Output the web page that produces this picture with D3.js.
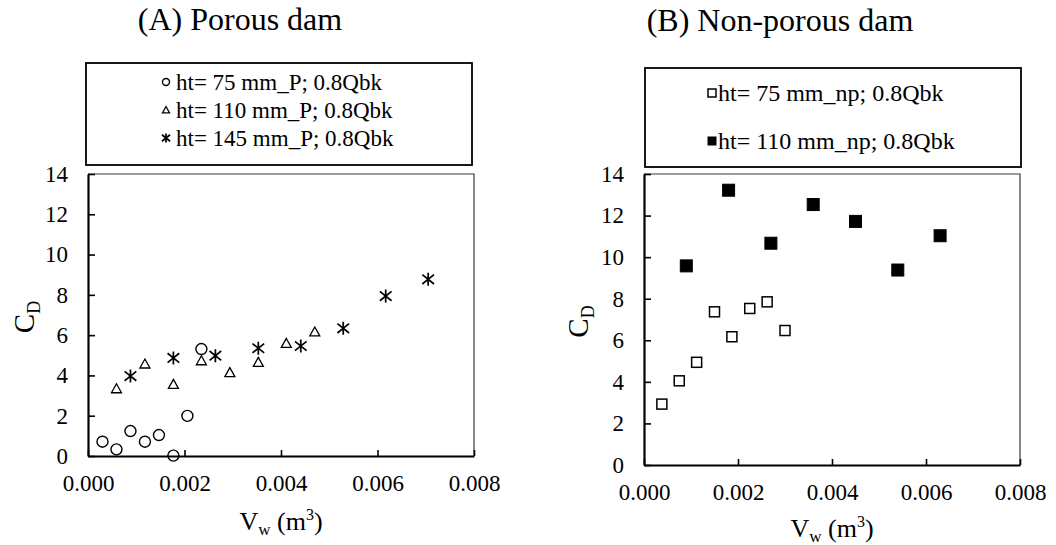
<!DOCTYPE html>
<html>
<head>
<meta charset="utf-8">
<script src="https://cdn.jsdelivr.net/npm/d3@7"></script>
<style>
  html, body { margin: 0; padding: 0; background: #fff; }
  svg { display: block; }
  svg text { font-family: "Liberation Serif", "Times New Roman", Times, Tinos, "DejaVu Serif", serif !important; fill: #000; }
</style>
</head>
<body>
<svg id="chart" width="1056" height="545"></svg>
<script>
// Axis ticks shared by both panels
const xTicks = [0, 0.002, 0.004, 0.006, 0.008];
const yTicks = [0, 2, 4, 6, 8, 10, 12, 14];

// (A) Porous dam: drag coefficient vs water volume
const seriesNamesA = ["ht= 75 mm_P; 0.8Qbk", "ht= 110 mm_P; 0.8Qbk", "ht= 145 mm_P; 0.8Qbk"];
const p75X  = [0.00030, 0.00059, 0.00088, 0.00118, 0.00147, 0.00177, 0.00206, 0.00235];
const p75Y  = [0.71, 0.33, 1.24, 0.71, 1.04, 0.02, 1.99, 5.31];
const p110X = [0.00059, 0.00118, 0.00177, 0.00235, 0.00294, 0.00353, 0.00411, 0.00470];
const p110Y = [3.34, 4.57, 3.56, 4.73, 4.14, 4.65, 5.59, 6.16];
const p145X = [0.00088, 0.00177, 0.00264, 0.00353, 0.00441, 0.00529, 0.00617, 0.00705];
const p145Y = [3.97, 4.87, 4.98, 5.35, 5.46, 6.34, 7.94, 8.77];

// (B) Non-porous dam
const seriesNamesB = ["ht= 75 mm_np; 0.8Qbk", "ht= 110 mm_np; 0.8Qbk"];
const np75X  = [0.00038, 0.00075, 0.00112, 0.00150, 0.00187, 0.00225, 0.00262, 0.00300];
const np75Y  = [2.93, 4.05, 4.94, 7.37, 6.17, 7.53, 7.85, 6.47];
const np110X = [0.00090, 0.00180, 0.00270, 0.00360, 0.00450, 0.00540, 0.00630];
const np110Y = [9.58, 13.22, 10.67, 12.53, 11.72, 9.38, 11.03];

const zip = (xs, ys) => xs.map((x, i) => ({ x, y: ys[i] }));

const svg = d3.select("#chart");
svg.append("rect").attr("width", 1056).attr("height", 545).attr("fill", "#fff");

// Marker painters: each draws one glyph centred at (0,0) of size s
const markers = {
  circle(g, s) {
    g.append("circle").attr("r", s / 2).attr("fill", "none").attr("stroke", "#000").attr("stroke-width", 1.4);
  },
  triangle(g, s) {
    const h = s * 0.9;
    g.append("path")
      .attr("d", `M0,${-h * 0.55}L${s / 2},${h * 0.45}L${-s / 2},${h * 0.45}Z`)
      .attr("fill", "none").attr("stroke", "#000").attr("stroke-width", 1.3);
  },
  star(g, s) {
    const r = s / 2;
    g.append("path")
      .attr("d", `M0,${-r}V${r}M${-r * 0.9},${-r * 0.72}L${r * 0.9},${r * 0.72}M${-r * 0.9},${r * 0.72}L${r * 0.9},${-r * 0.72}`)
      .attr("fill", "none").attr("stroke", "#000").attr("stroke-width", 1.7);
  },
  openSquare(g, s) {
    g.append("rect").attr("x", -s / 2).attr("y", -s / 2).attr("width", s).attr("height", s)
      .attr("fill", "#fff").attr("stroke", "#000").attr("stroke-width", 1.5);
  },
  filledSquare(g, s) {
    g.append("rect").attr("x", -s / 2).attr("y", -s / 2).attr("width", s).attr("height", s)
      .attr("fill", "#000").attr("stroke", "#000").attr("stroke-width", 1);
  }
};

function drawPanel(cfg) {
  const x = d3.scaleLinear().domain([0, 0.008]).range([cfg.left, cfg.right]);
  const y = d3.scaleLinear().domain([0, 14]).range([cfg.bottom, cfg.top]);

  // Title
  svg.append("text").attr("x", cfg.titleX).attr("y", cfg.titleY)
    .attr("text-anchor", "middle").attr("font-size", 32).text(cfg.title);

  // Legend box
  const lg = svg.append("g");
  lg.append("rect").attr("x", cfg.legend.x).attr("y", cfg.legend.y)
    .attr("width", cfg.legend.w).attr("height", cfg.legend.h)
    .attr("fill", "#fff").attr("stroke", "#000").attr("stroke-width", 1.8);
  cfg.series.forEach((s, i) => {
    const cy = cfg.legend.rowY[i];
    const m = lg.append("g").attr("transform", `translate(${cfg.legend.markX},${cy})`);
    markers[s.marker](m, s.legendSize);
    lg.append("text").attr("x", cfg.legend.textX).attr("y", cy).attr("dy", "0.35em")
      .attr("font-size", cfg.legend.fontSize).text(s.name);
  });

  // Plot frame: thin top/right border
  svg.append("path")
    .attr("d", `M${cfg.left},${cfg.top}H${cfg.right}V${cfg.bottom}`)
    .attr("fill", "none").attr("stroke", "#3a3a3a").attr("stroke-width", 1.2);

  // Axes with inward ticks
  const yAxis = d3.axisLeft(y).tickValues(yTicks).tickFormat(d3.format("d"))
    .tickSizeInner(-7).tickSizeOuter(0).tickPadding(20);
  const gy = svg.append("g").attr("transform", `translate(${cfg.left},0)`).call(yAxis);
  const xAxis = d3.axisBottom(x).tickValues(xTicks).tickFormat(d3.format(".3f"))
    .tickSizeInner(-6).tickSizeOuter(0).tickPadding(19);
  const gx = svg.append("g").attr("transform", `translate(0,${cfg.bottom})`).call(xAxis);
  [gx, gy].forEach(g => {
    g.attr("font-family", null);
    g.select(".domain").attr("stroke", "#000").attr("stroke-width", 2.2);
    g.selectAll(".tick line").attr("stroke", "#000").attr("stroke-width", 1.6);
    g.selectAll(".tick text").attr("font-size", 23);
  });

  // Axis titles
  const xt = svg.append("text").attr("x", (cfg.left + cfg.right) / 2).attr("y", cfg.bottom + cfg.xTitleOffset)
    .attr("text-anchor", "middle").attr("font-size", 26);
  xt.append("tspan").text("V");
  xt.append("tspan").attr("font-size", 17).attr("dy", 5).text("w");
  xt.append("tspan").attr("dy", -5).text(" (m");
  xt.append("tspan").attr("font-size", 16).attr("dy", -10).text("3");
  xt.append("tspan").attr("dy", 10).text(")");

  const yt = svg.append("text")
    .attr("transform", `translate(${cfg.yTitleX},${(cfg.top + cfg.bottom) / 2 + 2}) rotate(-90)`)
    .attr("text-anchor", "middle").attr("font-size", 29);
  yt.append("tspan").text("C");
  yt.append("tspan").attr("font-size", 18).attr("dy", 6).text("D");

  // Data points
  cfg.series.forEach(s => {
    svg.append("g").selectAll("g").data(s.points).join("g")
      .attr("transform", d => `translate(${x(d.x)},${y(d.y)})`)
      .each(function () { markers[s.marker](d3.select(this), s.size); });
  });
}

drawPanel({
  title: "(A) Porous dam", titleX: 240, titleY: 30,
  left: 88, right: 474, top: 174, bottom: 456,
  xTitleOffset: 74, yTitleX: 34,
  legend: { x: 86, y: 63, w: 386, h: 102, markX: 166, textX: 176, rowY: [82, 110, 138], fontSize: 23 },
  series: [
    { name: seriesNamesA[0], marker: "circle", size: 11, legendSize: 7, points: zip(p75X, p75Y) },
    { name: seriesNamesA[1], marker: "triangle", size: 10, legendSize: 7, points: zip(p110X, p110Y) },
    { name: seriesNamesA[2], marker: "star", size: 13, legendSize: 9, points: zip(p145X, p145Y) }
  ]
});

drawPanel({
  title: "(B) Non-porous dam", titleX: 780, titleY: 31,
  left: 644, right: 1020, top: 174, bottom: 465,
  xTitleOffset: 72, yTitleX: 588,
  legend: { x: 645, y: 68, w: 376, h: 99, markX: 712, textX: 718, rowY: [93, 141], fontSize: 24 },
  series: [
    { name: seriesNamesB[0], marker: "openSquare", size: 10, legendSize: 8, points: zip(np75X, np75Y) },
    { name: seriesNamesB[1], marker: "filledSquare", size: 12, legendSize: 8, points: zip(np110X, np110Y) }
  ]
});
</script>
</body>
</html>
